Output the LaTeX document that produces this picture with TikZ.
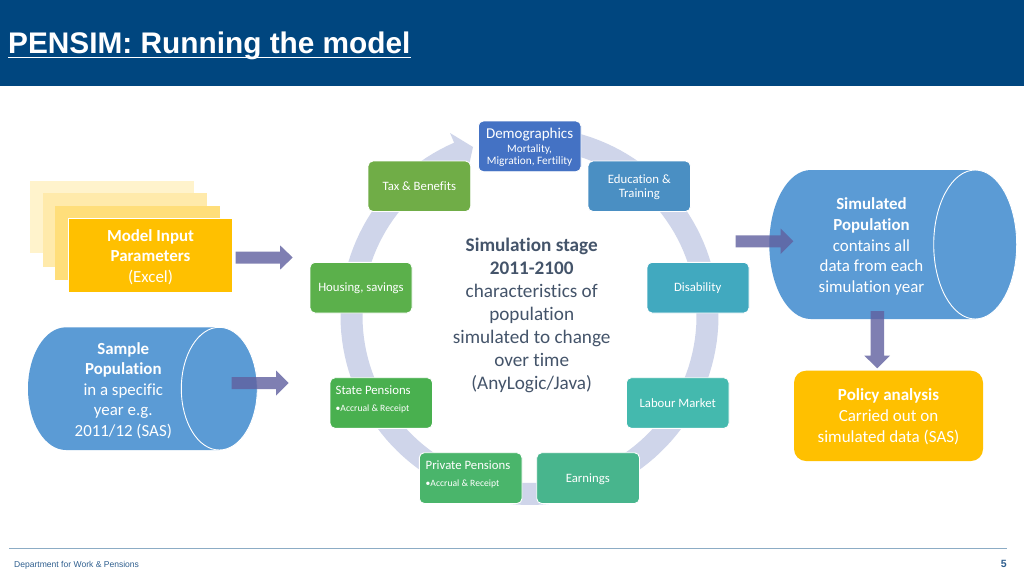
\documentclass[tikz,border=0pt]{standalone}
\usepackage{fontspec}
\setmainfont[Ligatures=NoCommon]{Carlito}
\newfontfamily\arialf{Liberation Sans}
\definecolor{hdr}{HTML}{00467F}
\definecolor{ringc}{HTML}{CFD5EA}
\definecolor{arrowc}{HTML}{60609F}
\definecolor{bluecyl}{HTML}{5B9BD5}
\definecolor{amber}{HTML}{FFC000}
\definecolor{slate}{HTML}{44546A}
\definecolor{footc}{HTML}{2F5F8F}
\definecolor{cDemo}{HTML}{4472C4}
\definecolor{cEdu}{HTML}{4A8FC3}
\definecolor{cDis}{HTML}{41A9BF}
\definecolor{cLab}{HTML}{44B9AE}
\definecolor{cEarn}{HTML}{48B58D}
\definecolor{cPriv}{HTML}{4AB56B}
\definecolor{cState}{HTML}{49B04F}
\definecolor{cHous}{HTML}{5BB04B}
\definecolor{cTax}{HTML}{70AD47}
\newcommand{\fsz}[1]{\fontsize{#1}{#1}\selectfont}
\newcommand{\cardbox}[6]{% name, x0, y0, x1, y1, colour
  \path[cardshape, fill=#6] (#2,#3) rectangle (#4,#5);
  \coordinate (#1) at ({(#2+#4)/2},{(#3+#5)/2});}
\newcommand{\harrow}[4]{% xstart, xtip, yc, half head
  \fill[blockarrow] (#1,#3-6) -- ({#2-12.7},#3-6) -- ({#2-12.7},#3-#4) -- (#2,#3) -- ({#2-12.7},#3+#4) -- ({#2-12.7},#3+6) -- (#1,#3+6) -- cycle;}
\newcommand{\cylinder}[6]{% x0,x1,y0,y1,rx,name
  \pgfmathsetmacro{\ymid}{(#3+#4)/2}
  \pgfmathsetmacro{\ry}{(#4-#3)/2}
  \fill[bluecyl] ({#1+#5},#3) -- ({#2-#5},#3) arc[start angle=90,end angle=-90,x radius=#5pt,y radius=\ry pt] -- ({#1+#5},#4) arc[start angle=-90,end angle=-270,x radius=#5pt,y radius=\ry pt] -- cycle;
  \draw[white,line width=0.9pt] ({#2-#5},\ymid) ellipse[x radius=#5pt,y radius=\ry pt];
  \coordinate (#6) at ({#2-#5},\ymid);}
\tikzset{
  cardshape/.style={draw=white,line width=0.9pt,rounded corners=5pt},
  blockarrow/.style={arrowc,fill opacity=.8},
  cardtext/.style={text=white,align=center,font=\fsz{12.75},inner sep=0pt},
}
\begin{document}
\begin{tikzpicture}[x=1pt,y=-1pt]
\useasboundingbox (0,0) rectangle (1024,576);
\fill[white] (0,0) rectangle (1024,576);
% header
\fill[hdr] (0,0) rectangle (1024,86);
\draw[white,line width=0.8pt] (8,57.2) -- (411,57.2);
\node[anchor=base west,inner sep=0pt,text=white,font=\arialf\bfseries\fsz{29.8}] (title) at (8,53) {PENSIM: Running the model};
% footer
\draw[color=hdr!45,line width=0.8pt] (9,548) -- (1007,548);
\node[anchor=base west,inner sep=0pt,text=footc,font=\arialf\fsz{8.55}] (foot) at (14,567) {Department for Work \& Pensions};
\node[anchor=base east,inner sep=0pt,text=footc,font=\arialf\bfseries\fsz{10.5}] (pageno) at (1007,567) {5};
% ring
\fill[ringc] plot[domain=-85:246.5,samples=140] ({529.5+189*cos(\x)},{316+189*sin(\x)})
  -- (450,133) -- (473,147) -- (467.3,173)
  -- plot[domain=246.5:-85,samples=140] ({529.5+167*cos(\x)},{316+167*sin(\x)}) -- cycle;
% cards
\cardbox{demo}{478.3}{121}{581}{171.7}{cDemo}
\cardbox{tax}{368}{161}{470.7}{211.5}{cTax}
\cardbox{edu}{588}{161}{690.5}{211.5}{cEdu}
\cardbox{hous}{310}{262.3}{412}{313}{cHous}
\cardbox{dis}{647}{262.3}{749}{313}{cDis}
\cardbox{state}{330}{377.7}{432.5}{428.3}{cState}
\cardbox{lab}{626.3}{377.7}{729}{428.3}{cLab}
\cardbox{priv}{419.3}{452.7}{522}{503.5}{cPriv}
\cardbox{earn}{536.7}{452.7}{639.5}{503.5}{cEarn}
\node[cardtext,font=\fsz{15}] (tdemo1) at (529.6,135) {Demographics};
\node[cardtext,font=\fsz{11.3},align=center] (tdemo2) at (529.6,155.5) {Mortality,\\[1.4pt]Migration, Fertility};
\node[cardtext] (ttax) at (419.3,186) {Tax \& Benefits};
\node[cardtext,align=center] (tedu) at (639.3,187.2) {Education \&\\[1.4pt]Training};
\node[cardtext] (thous) at (361,288) {Housing, savings};
\node[cardtext] (tdis) at (697.7,288) {Disability};
\node[cardtext,anchor=west] (tstate1) at (335.5,390.5) {State Pensions};
\node[cardtext,anchor=west,font=\fsz{9.6}] (tstate2) at (335.5,409) {•Accrual \& Receipt};
\node[cardtext] (tlab) at (677.7,403) {Labour Market};
\node[cardtext,anchor=west] (tpriv1) at (425.5,465.5) {Private Pensions};
\node[cardtext,anchor=west,font=\fsz{9.6}] (tpriv2) at (425.5,484) {•Accrual \& Receipt};
\node[cardtext] (tearn) at (587.8,479.3) {Earnings};
% centre text
\node[text=slate,align=center,inner sep=0pt,font=\fontsize{19.2}{23}\selectfont] (centre) at (531.7,315.5) {\textbf{Simulation stage}\\\textbf{2011-2100}\\characteristics of\\population\\simulated to change\\over time\\(AnyLogic/Java)};
% input stack
\fill[amber!20] (30,181) rectangle (194,253.3);
\fill[amber!33] (42.5,193.3) rectangle (207,266.7);
\fill[amber!52] (55,206) rectangle (220,280);
\draw[white,line width=0.9pt,fill=amber] (68,218.7) rectangle (232.5,292) coordinate[pos=.5] (input);
\node[text=white,align=center,inner sep=0pt,font=\fontsize{16.9}{20.6}\selectfont] (tinput) at (150.5,257) {\textbf{Model Input}\\\textbf{Parameters}\\(Excel)};
% cylinders
\cylinder{28}{257.3}{327.3}{450}{38}{samplelid}
\node[text=white,align=center,inner sep=0pt,font=\fontsize{16.9}{20.6}\selectfont] (tsample) at (123.3,390.5) {\textbf{Sample}\\\textbf{Population}\\in a specific\\year e.g.\\2011/12 (SAS)};
\cylinder{769.3}{1016.7}{170}{319}{41.5}{simlid}
\node[text=white,align=center,inner sep=0pt,font=\fontsize{16.9}{20.6}\selectfont] (tsim) at (871.5,246.5) {\textbf{Simulated}\\\textbf{Population}\\contains all\\data from each\\simulation year};
% policy
\path[fill=amber,rounded corners=12pt] (794,370.7) rectangle (983,461);
\node[text=white,align=center,inner sep=0pt,font=\fontsize{17}{20.6}\selectfont] (tpolicy) at (888.5,416.8) {\textbf{Policy analysis}\\Carried out on\\simulated data (SAS)};
% arrows
\harrow{235.5}{292.7}{257.5}{12.2}
\harrow{231.7}{288.7}{383}{12.5}
\harrow{735.7}{793.3}{241.3}{12.8}
\fill[blockarrow] (870.7,311) -- (870.7,355.7) -- (864.3,355.7) -- (877.3,368.3) -- (890,355.7) -- (884,355.7) -- (884,311) -- cycle;
\end{tikzpicture}
\end{document}
